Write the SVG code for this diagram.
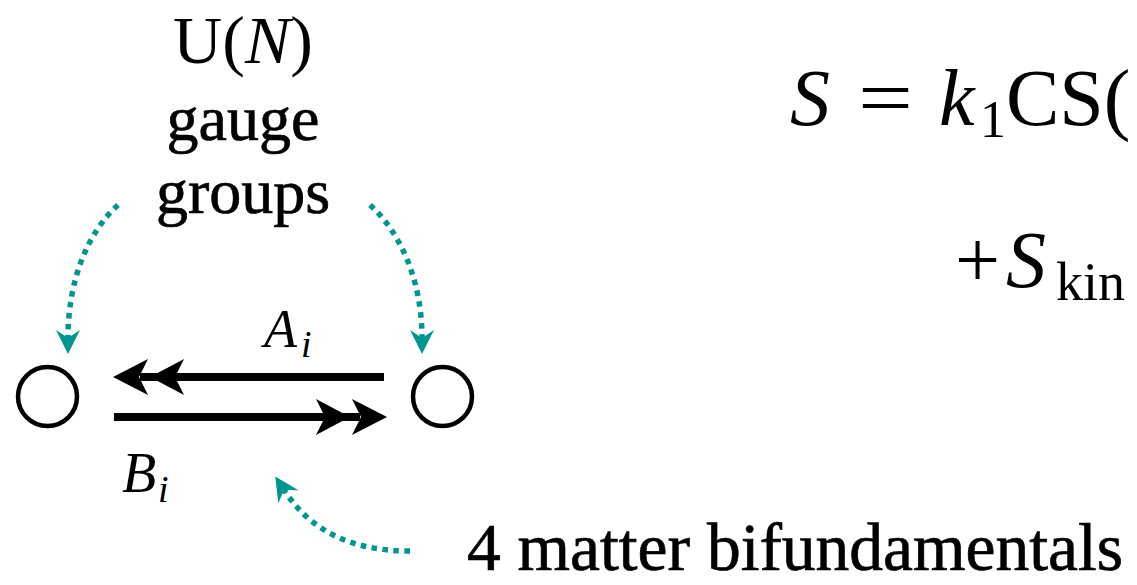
<svg xmlns="http://www.w3.org/2000/svg" width="1137" height="585" viewBox="0 0 1137 585">
<style>
.txt{font-family:"Liberation Serif","Times New Roman",serif;fill:#000}
.it{font-style:italic}
.heavy{stroke:#000;stroke-width:0.7}
.dot{fill:none;stroke:#00968f;stroke-width:5.5;stroke-dasharray:5.5 5.5;marker-end:url(#tealHead)}
.node{fill:#fff;stroke:#000;stroke-width:4.5}
.shaft{stroke:#000;stroke-width:8;fill:none}
.head{fill:#000}
</style>
<defs>
<marker id="tealHead" markerUnits="userSpaceOnUse" viewBox="-10 -14 28 28" refX="0" refY="0" markerWidth="28" markerHeight="28" orient="auto" overflow="visible">
<path d="M16,0 L-8,-12 L0,0 L-8,12 Z" fill="#00968f"/>
</marker>
</defs>
<rect width="1137" height="585" fill="#fff"/>

<g id="label-gauge">
<text class="txt" x="243" y="63" font-size="68" text-anchor="middle">U(<tspan class="it">N</tspan>)</text>
<text class="txt heavy" x="243" y="140" font-size="64" text-anchor="middle">gauge</text>
<text class="txt heavy" x="243" y="213" font-size="64" text-anchor="middle">groups</text>
</g>

<g id="node-left"><circle class="node" cx="47.5" cy="396.5" r="29.5"/></g>
<g id="node-right"><circle class="node" cx="442.5" cy="396.5" r="29.5"/></g>

<g id="connectors">
<path class="shaft" d="M384,377 L140,377"/>
<path class="head" d="M113,377 L148,359 L139,377 L148,395 Z"/>
<path class="head" d="M150,377 L184,359 L175,377 L184,395 Z"/>
<path class="shaft" d="M114,417 L360,417"/>
<path class="head" d="M387,417 L352,399 L361,417 L352,435 Z"/>
<path class="head" d="M350,417 L316,399 L325,417 L316,435 Z"/>
<path class="dot" d="M118,205 C88,232 68,280 68,338"/>
<path class="dot" d="M370,205 C400,232 422,280 422,338"/>
<path class="dot" d="M410,551 C350,551 310,530 284,490"/>
</g>

<g id="label-A">
<text class="txt it" x="264" y="347" font-size="54">A</text>
<text class="txt it" x="301" y="357" font-size="38">i</text>
</g>
<g id="label-B">
<text class="txt it" x="122" y="492" font-size="56">B</text>
<text class="txt it" x="158" y="502" font-size="38">i</text>
</g>

<g id="equation">
<text class="txt it" x="790" y="125" font-size="80">S</text>
<text class="txt" x="858" y="125" font-size="80" textLength="55" lengthAdjust="spacingAndGlyphs">=</text>
<text class="txt it" x="939" y="125" font-size="80">k</text>
<text class="txt" x="980" y="137" font-size="52">1</text>
<text class="txt" x="1006" y="125" font-size="80">CS(</text>
<text class="txt" x="955" y="287" font-size="80">+</text>
<text class="txt it" x="1006" y="287" font-size="80">S</text>
<text class="txt" x="1056" y="300" font-size="54">kin</text>
</g>

<g id="label-matter">
<text class="txt heavy" x="467" y="570" font-size="67" textLength="656" lengthAdjust="spacingAndGlyphs">4 matter bifundamentals</text>
</g>
</svg>
